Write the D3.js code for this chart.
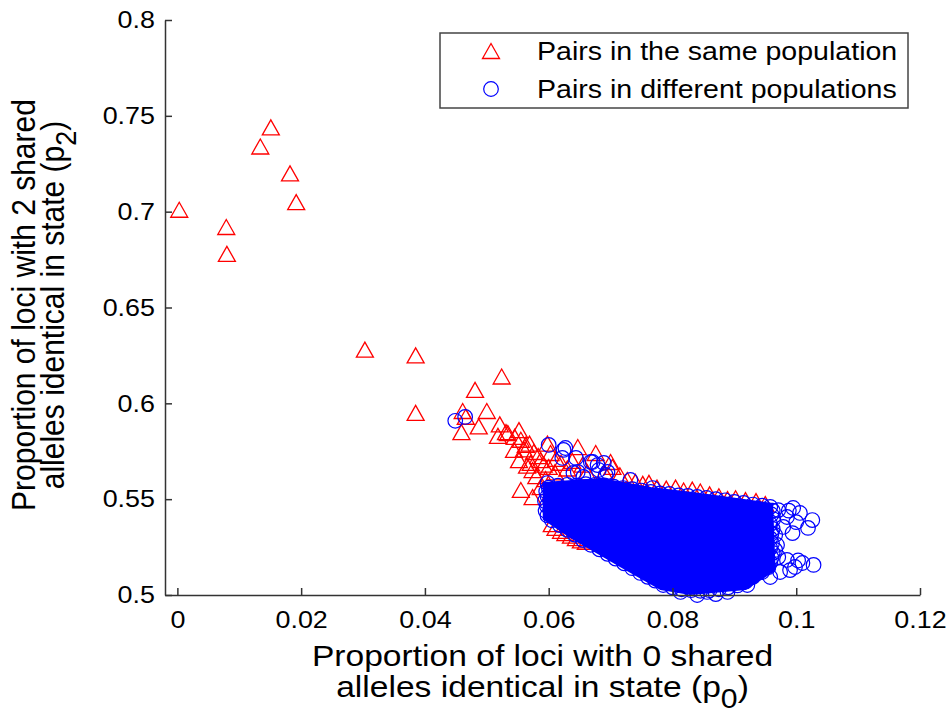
<!DOCTYPE html>
<html>
<head>
<meta charset="utf-8">
<style>
body { margin: 0; background: #fff; }
svg { font-family: "Liberation Sans", Arial, sans-serif; }
</style>
</head>
<body>
<svg width="951" height="713"></svg>
<script src="https://d3js.org/d3.v7.min.js"></script>
<script>

// [p0, p2]
var samePop = [
  [0.0003,0.701],[0.0079,0.692],[0.0080,0.678],[0.0134,0.734],[0.0151,0.744],[0.0182,0.720],[0.0192,0.705],
  [0.0303,0.628],[0.0385,0.625],[0.0385,0.595],[0.0481,0.607],[0.0524,0.614],
  [0.0461,0.596],[0.0500,0.596],[0.0459,0.585],[0.0466,0.593],[0.0487,0.588],[0.0521,0.589],[0.0518,0.583],
  [0.0531,0.585],[0.0552,0.586],[0.0555,0.581],[0.0569,0.579],[0.0598,0.579],
  [0.0534,0.5845],[0.0545,0.5825],[0.0563,0.5783],[0.0544,0.5757],[0.0576,0.5746],[0.0552,0.5704],[0.0571,0.5689],
  [0.0587,0.5704],[0.0600,0.5668],[0.0574,0.5652],[0.0603,0.5741],[0.0647,0.5772],[0.0676,0.5741],[0.0700,0.5694],
  [0.0703,0.5668],[0.0555,0.5548],[0.0574,0.5511],[0.0603,0.5532],[0.0587,0.5563],
  [0.0560,0.5760],[0.0583,0.5725],[0.0592,0.5680],[0.0612,0.5710],[0.0620,0.5690],[0.0565,0.5675],[0.0580,0.5620],
  [0.0595,0.5605],[0.0610,0.5640],[0.0630,0.5660],[0.0638,0.5700],[0.0655,0.5680],[0.0662,0.5640],[0.0690,0.5640],
  [0.0715,0.5625],[0.0727,0.5600],[0.0740,0.5590],[0.0752,0.5580],[0.0762,0.5585],[0.0775,0.5560],[0.0790,0.5555],
  [0.0805,0.5560],[0.0818,0.5545],[0.0832,0.5550],[0.0845,0.5540],[0.0860,0.5525],[0.0875,0.5515],[0.0889,0.5500],
  [0.0902,0.5505],[0.0918,0.5495],[0.0935,0.5490],[0.0950,0.5475],
  [0.0605,0.5370],[0.0611,0.5350],[0.0620,0.5335],[0.0627,0.5323],[0.0636,0.5310],[0.0644,0.5297],[0.0652,0.5285],[0.0660,0.5277]
];

var diffPop = [
  [0.0449,0.5909],[0.0465,0.5929],[0.0600,0.5783],[0.0624,0.5757],[0.0627,0.5767],[0.0622,0.5715],[0.0644,0.5715],
  [0.0668,0.5694],[0.0689,0.5689],[0.0681,0.5652],[0.0695,0.5642],[0.0732,0.5600],[0.0768,0.5558],[0.0598,0.5584],
  [0.0640,0.5637],[0.0656,0.5616],[0.0671,0.5694],[0.0647,0.5642],[0.0679,0.5678],[0.0692,0.5626],
  [0.1026,0.5391],[0.1019,0.5350],[0.1006,0.5428],[0.0995,0.5454],[0.0985,0.5407],[0.0979,0.5355],[0.0994,0.5323],
  [0.0971,0.5443],[0.0966,0.5313],[0.1000,0.5380],[0.0988,0.5440],
  [0.1028,0.5157],[0.1010,0.5167],[0.0998,0.5146],[0.0985,0.5183],[0.0971,0.5198],[0.0974,0.5120],[0.0958,0.5094],
  [0.0966,0.5235],[0.0969,0.5261],[0.1003,0.5180],[0.0990,0.5130],
  [0.0856,0.5016],[0.0889,0.5016],[0.0921,0.5052],[0.0813,0.5016],[0.0840,0.5000],[0.0870,0.5005],
  [0.0600,0.5560],[0.0615,0.5570],[0.0630,0.5575],[0.0645,0.5572],[0.0660,0.5578],[0.0675,0.5575],[0.0690,0.5572],
  [0.0705,0.5565],[0.0720,0.5558],[0.0735,0.5552],[0.0750,0.5545],[0.0765,0.5538],[0.0780,0.5530],[0.0795,0.5527],
  [0.0810,0.5520],[0.0825,0.5517],[0.0840,0.5512],[0.0855,0.5507],[0.0870,0.5500],[0.0885,0.5494],[0.0900,0.5486],
  [0.0915,0.5480],[0.0930,0.5472],[0.0945,0.5466],[0.0958,0.5460],
  [0.0962,0.5440],[0.0960,0.5420],[0.0963,0.5395],[0.0958,0.5370],[0.0962,0.5345],[0.0960,0.5320],[0.0958,0.5295],
  [0.0961,0.5270],[0.0958,0.5245],[0.0962,0.5220],[0.0960,0.5195],[0.0958,0.5170],[0.0955,0.5145],
  [0.0945,0.5120],[0.0930,0.5095],[0.0918,0.5070],[0.0905,0.5050],[0.0890,0.5040],[0.0875,0.5030],[0.0860,0.5025],
  [0.0845,0.5022],[0.0830,0.5025],[0.0815,0.5030],[0.0800,0.5040],[0.0785,0.5052],
  [0.0772,0.5075],[0.0760,0.5095],[0.0748,0.5115],[0.0735,0.5140],[0.0722,0.5165],[0.0708,0.5190],[0.0695,0.5215],
  [0.0682,0.5238],[0.0668,0.5262],[0.0655,0.5288],[0.0642,0.5315],[0.0630,0.5340],[0.0618,0.5365],[0.0605,0.5390],
  [0.0598,0.5415],[0.0595,0.5440],[0.0597,0.5465],[0.0594,0.5490],[0.0598,0.5515],[0.0596,0.5540]
];

// outline of the region where the different-population markers merge into solid colour
var diffCore = [
  [0.0592,0.5584],[0.0684,0.5605],[0.0765,0.5558],[0.0845,0.5527],[0.0961,0.5475],[0.0965,0.5130],
  [0.0918,0.5031],[0.0829,0.5005],[0.0781,0.5031],[0.0716,0.5151],[0.0635,0.5303],[0.0592,0.5397]
];

var xTicks = [0, 0.02, 0.04, 0.06, 0.08, 0.1, 0.12];
var xTickLabels = ["0", "0.02", "0.04", "0.06", "0.08", "0.1", "0.12"];
var yTicks = [0.5, 0.55, 0.6, 0.65, 0.7, 0.75, 0.8];
var yTickLabels = ["0.5", "0.55", "0.6", "0.65", "0.7", "0.75", "0.8"];
var legendLabels = ["Pairs in the same population", "Pairs in different populations"];

var svg = d3.select("svg");
var stretch = 1.12;   // the figure is wider than tall relative to its font

var x = d3.scaleLinear().domain([-0.002, 0.12]).range([165, 920]);
var y = d3.scaleLinear().domain([0.5, 0.8]).range([595, 20]);

var tri = "M0,-7.5L8.5,7.5L-8.5,7.5Z";

// red triangles first, blue drawn over them
svg.append("g").selectAll("path")
    .data(samePop)
  .join("path")
    .attr("d", tri)
    .attr("transform", function(d) { return "translate(" + x(d[0]) + "," + y(d[1]) + ")"; })
    .attr("fill", "none")
    .attr("stroke", "#ff0000")
    .attr("stroke-width", 1.3);

svg.append("path")
    .datum(diffCore)
    .attr("d", d3.line().x(function(d) { return x(d[0]); }).y(function(d) { return y(d[1]); }).curve(d3.curveLinearClosed))
    .attr("fill", "#0000ff")
    .attr("stroke", "#0000ff")
    .attr("stroke-width", 2);

svg.append("g").selectAll("circle")
    .data(diffPop)
  .join("circle")
    .attr("cx", function(d) { return x(d[0]); })
    .attr("cy", function(d) { return y(d[1]); })
    .attr("r", 7.3)
    .attr("fill", "none")
    .attr("stroke", "#0000ff")
    .attr("stroke-width", 1.2);

// axes, ticks pointing inward
var xAxis = svg.append("g")
    .attr("transform", "translate(0,595)")
    .call(d3.axisBottom(x).tickValues(xTicks).tickSize(-7).tickSizeOuter(0).tickPadding(16)
      .tickFormat(function(d, i) { return xTickLabels[i]; }));

var yAxis = svg.append("g")
    .attr("transform", "translate(165,0)")
    .call(d3.axisLeft(y).tickValues(yTicks).tickSize(-7).tickSizeOuter(0).tickPadding(9)
      .tickFormat(function(d, i) { return yTickLabels[i]; }));

[xAxis, yAxis].forEach(function(ax) {
  ax.selectAll("path, line").attr("stroke", "#333").attr("stroke-width", 1.5);
  ax.selectAll("text")
      .attr("font-size", 24)
      .attr("font-family", "Liberation Sans, Arial, sans-serif")
      .attr("fill", "#000")
      .attr("transform", "scale(" + stretch + ",1)");
});

// x label
var xl = svg.append("g").attr("font-size", 30).attr("fill", "#000");
xl.append("text")
    .attr("transform", "translate(542.5,666) scale(" + stretch + ",1)")
    .attr("text-anchor", "middle")
    .text("Proportion of loci with 0 shared");
var xl2 = xl.append("text")
    .attr("transform", "translate(542.5,697) scale(" + stretch + ",1)")
    .attr("text-anchor", "middle");
xl2.append("tspan").text("alleles identical in state (p");
xl2.append("tspan").attr("dy", 11).attr("font-size", 27).text("0");
xl2.append("tspan").attr("dy", -11).text(")");

// y label
var yl = svg.append("g").attr("font-size", 30).attr("fill", "#000");
yl.append("text")
    .attr("transform", "translate(35,305) scale(" + stretch + ",1) rotate(-90)")
    .attr("text-anchor", "middle")
    .text("Proportion of loci with 2 shared");
var yl2 = yl.append("text")
    .attr("transform", "translate(64,305) scale(" + stretch + ",1) rotate(-90)")
    .attr("text-anchor", "middle");
yl2.append("tspan").text("alleles identical in state (p");
yl2.append("tspan").attr("dy", 11).attr("font-size", 27).text("2");
yl2.append("tspan").attr("dy", -11).text(")");

// legend
var lg = svg.append("g");
lg.append("rect")
    .attr("x", 440).attr("y", 33).attr("width", 468).attr("height", 75)
    .attr("fill", "#fff").attr("stroke", "#444").attr("stroke-width", 1.5);

var rowY = [51, 89];
lg.append("path")
    .attr("d", tri)
    .attr("transform", "translate(491," + rowY[0] + ")")
    .attr("fill", "none").attr("stroke", "#ff0000").attr("stroke-width", 1.3);
lg.append("circle")
    .attr("cx", 491).attr("cy", rowY[1]).attr("r", 7.3)
    .attr("fill", "none").attr("stroke", "#0000ff").attr("stroke-width", 1.2);

lg.selectAll("text")
    .data(legendLabels)
  .join("text")
    .attr("transform", function(d, i) { return "translate(537," + (rowY[i] + 9) + ") scale(" + stretch + ",1)"; })
    .attr("font-size", 25.5)
    .attr("fill", "#000")
    .text(function(d) { return d; });

</script>
</body>
</html>
